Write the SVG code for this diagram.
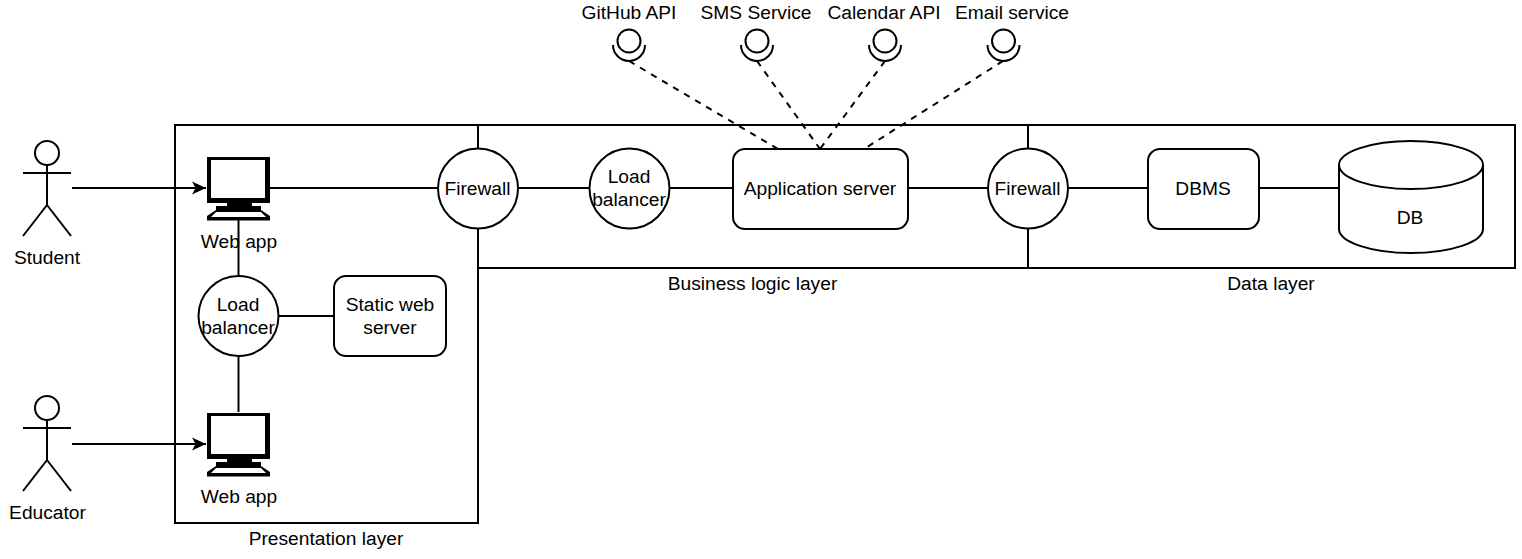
<svg xmlns="http://www.w3.org/2000/svg" width="1522" height="559" viewBox="0 0 1522 559">
<style>
.s{fill:none;stroke:#000;stroke-width:2}
.w{fill:#fff;stroke:#000;stroke-width:2}
.d{fill:none;stroke:#000;stroke-width:2;stroke-dasharray:6.4 6.4}
text{font-family:"Liberation Sans",Arial,sans-serif;font-size:19.2px;fill:#000;text-anchor:middle}
</style>
<defs>
<marker id="arr" markerUnits="userSpaceOnUse" markerWidth="16" markerHeight="14" refX="14" refY="7" orient="auto"><path d="M0 0.5L14 7L0 13.5L3.5 7Z" fill="#000"/></marker>
<g id="pc">
<path fill-rule="evenodd" fill="#000" d="M-31-31H32V15H-31ZM-27-28V10H27V-28Z"/>
<rect x="-27" y="-28" width="54" height="38" fill="#fff"/>
<path d="M-11 15H14V18H23V22L32 28V32.500H-31V28L-22 22V18H-11Z" fill="#000"/>
<path d="M-22 24H23L28 29H-27Z" fill="#fff"/>
</g>
<g id="if">
<circle cx="0" cy="-3" r="11.500" class="s"/>
<path d="M-16 1A16 16 0 0 0 16 1" class="s"/>
</g>
</defs>
<g id="connectors">
<path class="s" d="M72 188H206" marker-end="url(#arr)"/>
<path class="s" d="M72 444H206" marker-end="url(#arr)"/>
<path class="s" d="M270 188H438M518 188H590M669 188H733M908 188H988M1068 188H1148M1259 188H1339"/>
<path class="s" d="M238.500 220V276M238.500 356V412M278 316H334"/>
<path class="d" d="M629 61L778 149M757 61L820 149M885 61L820 149M1003 61L864 149"/>
</g>
<g id="presentation-layer"><rect x="175" y="125" width="303" height="398" class="s"/><text x="326" y="545">Presentation layer</text></g>
<g id="business-layer"><rect x="478" y="125" width="550" height="143" class="s"/><text x="752.500" y="290">Business logic layer</text></g>
<g id="data-layer"><rect x="1028" y="125" width="487" height="143" class="s"/><text x="1271" y="290">Data layer</text></g>
<g id="student"><g class="s"><circle cx="47" cy="153" r="12"/><path d="M47 165V205M23 173H71M47 205L23 236M47 205L71 236"/></g><text x="47" y="264">Student</text></g>
<g id="educator"><g class="s"><circle cx="47" cy="408" r="12"/><path d="M47 420V460M23 428H71M47 460L23 491M47 460L71 491"/></g><text x="47.500" y="519">Educator</text></g>
<g id="webapp1"><use href="#pc" x="238" y="188"/><text x="239" y="248">Web app</text></g>
<g id="webapp2"><use href="#pc" x="238" y="444"/><text x="239" y="503">Web app</text></g>
<g id="lb1"><circle cx="238.500" cy="316" r="40" class="w"/><text x="238" y="311">Load</text><text x="238" y="334">balancer</text></g>
<g id="static"><rect x="334" y="276" width="112" height="80" rx="12" class="w"/><text x="390" y="311">Static web</text><text x="390" y="334">server</text></g>
<g id="fw1"><circle cx="478" cy="188.500" r="40" class="w"/><text x="477.500" y="195">Firewall</text></g>
<g id="lb2"><circle cx="629.500" cy="188.500" r="40" class="w"/><text x="629" y="183">Load</text><text x="629" y="206">balancer</text></g>
<g id="app"><rect x="733" y="149" width="175" height="80" rx="12" class="w"/><text x="820" y="195">Application server</text></g>
<g id="fw2"><circle cx="1028" cy="188.500" r="40" class="w"/><text x="1027.500" y="195">Firewall</text></g>
<g id="dbms"><rect x="1148" y="149" width="111" height="80" rx="12" class="w"/><text x="1203" y="195">DBMS</text></g>
<g id="db"><path class="w" d="M1339 165C1339 152 1371 141 1411 141C1451 141 1483 152 1483 165V229C1483 242 1451 253 1411 253C1371 253 1339 242 1339 229Z"/><path class="s" d="M1339 165C1339 178 1371 189 1411 189C1451 189 1483 178 1483 165"/><text x="1410" y="224">DB</text></g>
<g id="github"><use href="#if" x="629" y="44"/><text x="629" y="19">GitHub API</text></g>
<g id="sms"><use href="#if" x="757" y="44"/><text x="756" y="19">SMS Service</text></g>
<g id="calendar"><use href="#if" x="885" y="44"/><text x="884" y="19">Calendar API</text></g>
<g id="email"><use href="#if" x="1003.500" y="44"/><text x="1012" y="19">Email service</text></g>
</svg>
